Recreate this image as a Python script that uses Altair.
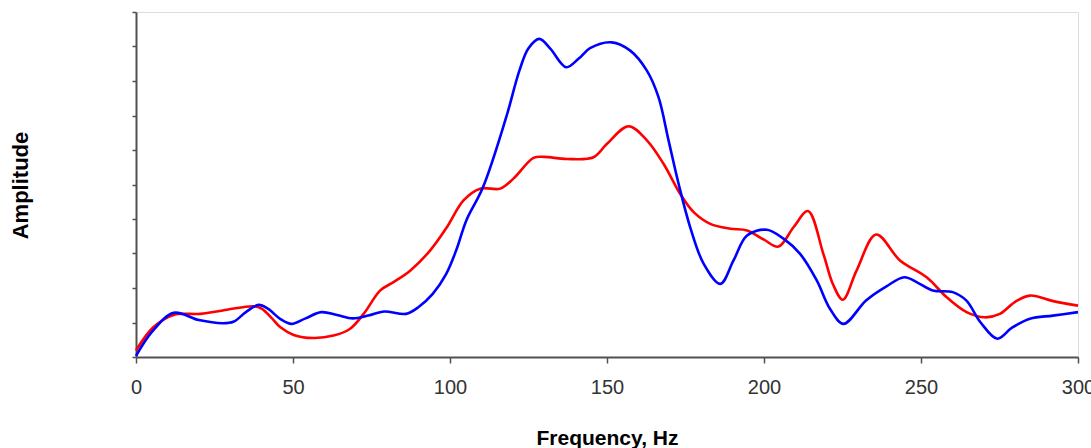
import altair as alt
import pandas as pd

# Blue series (frequency Hz, amplitude)
blue_f = [0, 5, 12, 20, 27.5, 31, 35, 39, 42, 46, 49.5, 54, 59, 64, 69, 74, 79, 86, 90,
          94.5, 98.8, 102, 105.2, 110.5, 117.9, 122.1, 125, 128.5, 132, 137, 141, 144.6,
          151.5, 157.4, 162.7, 166.4, 169.6, 172.8, 176.5, 180.8, 186.1, 190.3, 194.6,
          200.9, 206.2, 211.5, 216.8, 221, 225.3, 232.5, 239, 244.7, 249, 253.7, 260.1,
          264.4, 269, 274.3, 279, 284.7, 292, 300]
blue_v = [0.03, 0.72, 1.28, 1.07, 0.98, 1.02, 1.30, 1.51, 1.40, 1.10, 0.96, 1.12, 1.30,
          1.22, 1.12, 1.20, 1.32, 1.25, 1.45, 1.83, 2.41, 3.10, 3.96, 4.92, 6.95, 8.30,
          8.95, 9.22, 8.93, 8.40, 8.65, 8.95, 9.12, 8.88, 8.30, 7.53, 6.28, 5.02, 3.76,
          2.70, 2.12, 2.80, 3.52, 3.69, 3.43, 2.99, 2.22, 1.40, 0.96, 1.64, 2.05, 2.31,
          2.15, 1.93, 1.88, 1.64, 1.00, 0.53, 0.85, 1.11, 1.20, 1.30]

# Red series (frequency Hz, amplitude)
red_f = [0, 5.5, 12, 20.5, 29, 37.5, 40, 43, 46, 50.2, 56.5, 62.9, 68.2, 72.5, 77.8, 82,
         87.4, 93.7, 99, 104.3, 109.6, 116, 120.2, 126.6, 130, 137.2, 145.7, 150, 156.9,
         162.7, 168, 173.3, 177.6, 182.9, 189.3, 194.6, 200, 204.6, 209.4, 214, 218.9,
         222, 225.1, 229.5, 235.7, 243.3, 251.8, 258.2, 264.5, 270.3, 275.1, 280, 284.7,
         292.1, 300]
red_v = [0.19, 0.86, 1.22, 1.25, 1.37, 1.47, 1.40, 1.15, 0.86, 0.64, 0.55, 0.62, 0.82,
         1.25, 1.93, 2.17, 2.51, 3.09, 3.76, 4.54, 4.88, 4.88, 5.17, 5.77, 5.80, 5.74,
         5.79, 6.18, 6.69, 6.28, 5.60, 4.73, 4.20, 3.86, 3.72, 3.67, 3.40, 3.20, 3.76,
         4.23, 2.99, 2.10, 1.66, 2.51, 3.55, 2.80, 2.31, 1.73, 1.30, 1.15, 1.25, 1.60,
         1.78, 1.62, 1.49]

x_ticks = [0, 50, 100, 150, 200, 250, 300]
y_ticks = list(range(0, 11))

df = pd.concat([
    pd.DataFrame({"f": red_f, "v": red_v, "s": "red", "o": 0}),
    pd.DataFrame({"f": blue_f, "v": blue_v, "s": "blue", "o": 1}),
])

W, H = 942, 345
FONT = "Liberation Sans"

x = alt.X("f:Q", scale=alt.Scale(domain=[0, 300], nice=False, zero=False),
          axis=alt.Axis(values=x_ticks, grid=False, title="Frequency, Hz",
                        tickSize=6, tickWidth=1.5, tickColor="#505050",
                        domainColor="#505050", domainWidth=2,
                        labelFont=FONT, labelFontSize=20, labelColor="#333333",
                        labelPadding=14, labelFlush=False,
                        titleFont=FONT, titleFontSize=21, titleFontWeight="bold",
                        titleColor="#000000", titleX=W / 2, titleY=81,
                        titleAlign="center", titleBaseline="middle"))
y = alt.Y("v:Q", scale=alt.Scale(domain=[0, 10], nice=False),
          axis=alt.Axis(values=y_ticks, grid=False, labels=False, title="Amplitude",
                        tickSize=4, tickWidth=1.5, tickColor="#505050",
                        domainColor="#505050", domainWidth=2,
                        titleFont=FONT, titleFontSize=22, titleFontWeight="bold",
                        titleColor="#000000", titleX=-116, titleY=173,
                        titleAngle=270, titleAlign="center", titleBaseline="middle"))

chart = alt.Chart(df).mark_line(interpolate="catmull-rom", strokeWidth=2.6).encode(
    x=x, y=y,
    color=alt.Color("s:N", scale=alt.Scale(domain=["red", "blue"], range=["#FF0000", "#0000FF"]),
                    legend=None),
    detail="s:N",
    order="o:Q",
).properties(
    width=W, height=H,
    autosize=alt.AutoSizeParams(type="none"),
    padding={"left": 136, "top": 12, "right": 13, "bottom": 91},
).configure_view(stroke=None).configure(background="white")

chart.save("out.html", embed_options={"renderer": "svg", "actions": False})
